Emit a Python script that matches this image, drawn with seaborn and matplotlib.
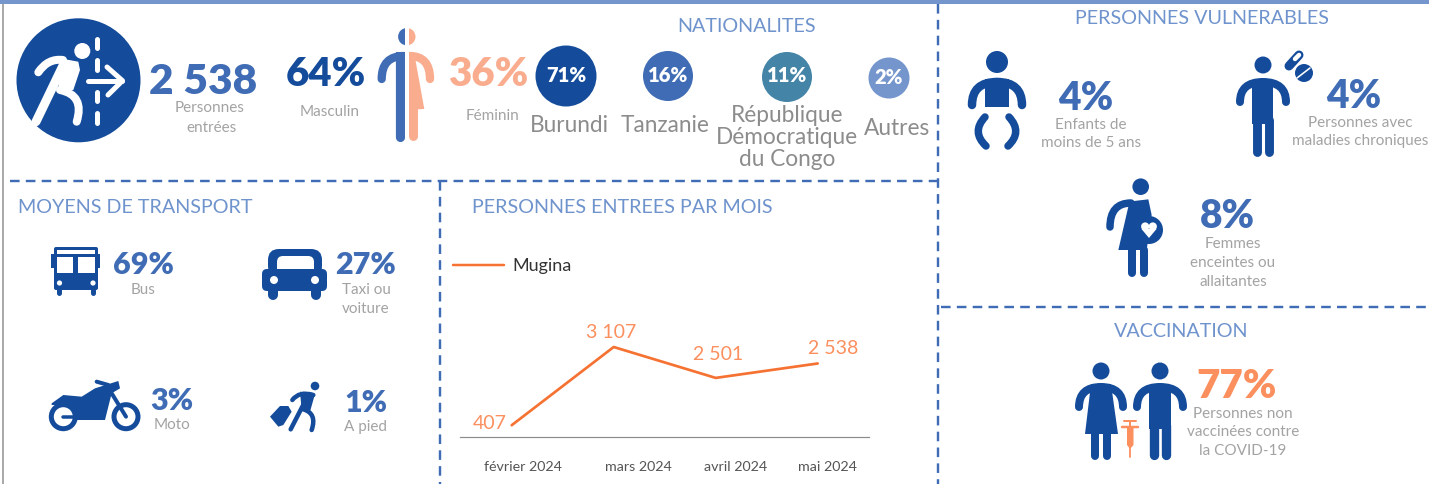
import numpy as np
import pandas as pd
import matplotlib
matplotlib.use("Agg")
import matplotlib.pyplot as plt
import seaborn as sns
from matplotlib.patches import Circle, Wedge, Polygon, PathPatch, FancyBboxPatch
from matplotlib.path import Path
from matplotlib.transforms import ScaledTranslation

# ---------- data ----------
total_entries = "2 538"
total_label = ["Personnes", "entrées"]
gender_labels = ["Masculin", "Féminin"]
gender_share = [64, 36]
nat_names = ["Burundi", "Tanzanie", "République\nDémocratique\ndu Congo", "Autres"]
nat_share = [71, 16, 11, 2]
transport_names = ["Bus", "Taxi ou\nvoiture", "Moto", "A pied"]
transport_share = [69, 27, 3, 1]
vuln_names = ["Enfants de\nmoins de 5 ans", "Personnes avec\nmaladies chroniques", "Femmes\nenceintes ou\nallaitantes"]
vuln_share = [4, 4, 8]
vacc_share = 77
vacc_label = "Personnes non\nvaccinées contre\nla COVID-19"
months = ["février 2024", "mars 2024", "avril 2024", "mai 2024"]
point_labels = ["407", "3 107", "2 501", "2 538"]
line_values = [407, 3107, 2040, 2538]   # heights as drawn in the picture
series_name = "Mugina"

# ---------- style ----------
W, H = 1429, 484
NAVY, BLUE, TEAL, LIGHT = "#144c9b", "#3f6cb5", "#4484a6", "#7596cd"
PEACH, ORANGE, LINE = "#f9ad8e", "#fb8f5e", "#f57232"
GREY, TITLE = "#a3a3a3", "#6f93cc"
sns.set_theme(style="white")
plt.rcParams["font.family"] = ["Lato", "DejaVu Sans"]

fig = plt.figure(figsize=(W / 100, H / 100), dpi=100, facecolor="white")
bg = fig.add_axes([0, 0, 1, 1])
bg.set_xlim(0, W)
bg.set_ylim(H, 0)
bg.axis("off")


def px(v):
    return v * 0.72


def txt(x, y, s, size, color=GREY, weight="normal", ha="center", ls=1.42):
    bg.text(x, y + 1.5, s, fontsize=size, color=color, fontweight=weight, ha=ha, va="center",
            linespacing=ls, clip_on=True)


def stroke(pts, w, color=NAVY, curve=False):
    if curve:
        codes = [Path.MOVETO] + [Path.CURVE3] * (len(pts) - 1)
    else:
        codes = [Path.MOVETO] + [Path.LINETO] * (len(pts) - 1)
    bg.add_patch(PathPatch(Path(pts, codes), fill=False, ec=color, lw=px(w),
                           capstyle="round", joinstyle="round"))


def poly(pts, color=NAVY):
    bg.add_patch(Polygon(pts, closed=True, fc=color, ec="none"))


def disc(x, y, r, color=NAVY):
    bg.add_patch(Circle((x, y), r, fc=color, ec="none"))


def crop(ox, oy, pts):
    return [(ox + a / 3, oy + b / 3) for a, b in pts]


def dashed(x0, y0, x1, y1):
    bg.plot([x0, x1], [y0, y1], color=BLUE, lw=px(2.4), dashes=(4.0, 2.6), dash_capstyle="butt")


def man(cx, head_y, r, top, half, arm_bottom, hw, bottom, crotch, color=NAVY, arm=8):
    disc(cx, head_y, r, color)
    for s in (-1, 1):
        stroke([(cx, top + arm / 2), (cx + s * (half - arm / 2), top + arm / 2),
                (cx + s * (half - arm / 2), arm_bottom)], arm, color, curve=True)
    leg = hw * 0.85
    poly([(cx - hw, top + 2), (cx + hw, top + 2), (cx + hw, crotch + 4), (cx - hw, crotch + 4)], color)
    for s in (-1, 1):
        stroke([(cx + s * (hw - leg / 2), crotch), (cx + s * (hw - leg / 2), bottom - leg / 2)], leg, color)


# ---------- frame ----------
bg.add_patch(plt.Rectangle((0, 0), W, 4, fc=LIGHT, ec="none"))
bg.plot([3.5, 3.5], [4, H], color="#8f8f8f", lw=px(1.5))
dashed(10, 181, 938, 181)
dashed(938, 4, 938, H)
dashed(440, 181, 440, H)
dashed(941, 307, W, 307)

# ---------- headline block ----------
disc(78.5, 80.3, 62)
disc(82.3, 51, 8, "white")
poly([(60, 58.3), (78.3, 61.7), (80, 70), (73.3, 90), (58.3, 90)], "white")
stroke([(36, 121.7), (63.3, 65)], 9, "white")
stroke([(38.3, 72.3), (48, 58), (63, 60)], 8, "white", curve=True)
stroke([(60, 90), (85, 95), (76.7, 121.7)], 8, "white", curve=True)
for y0, y1 in [(39, 48), (60, 70), (92, 101), (113, 123)]:
    stroke([(96.7, y0), (96.7, y1)], 5, "white")
stroke([(88, 80.7), (122, 80.7)], 5, "white")
stroke([(107, 67), (122.5, 80.7), (108, 95)], 5, "white")

txt(203.5, 81, total_entries, 30.5, BLUE, "heavy")
txt(210, 106, total_label[0], 11)
txt(212, 126, total_label[1], 11)
txt(326, 73, f"{gender_share[0]}%", 29, NAVY, "heavy")
txt(330, 110, gender_labels[0], 11)
txt(488, 73, f"{gender_share[1]}%", 29, PEACH, "heavy")
txt(493, 114, gender_labels[1], 11)

# split person
bg.add_patch(Wedge((406.8, 36.7), 8.7, 90, 270, fc=BLUE, ec="none"))
bg.add_patch(Wedge((406.8, 36.7), 8.7, -90, 90, fc=PEACH, ec="none"))
stroke([(404, 56), (381.7, 56), (381.7, 79)], 8.3, BLUE, curve=True)
poly([(395.7, 52), (405, 52), (405, 136), (395.7, 136)], BLUE)
stroke([(400.4, 60), (400.4, 136.5)], 9.2, BLUE)
stroke([(409.5, 56), (430, 56), (430, 79)], 8.3, PEACH, curve=True)
poly([(408.7, 52), (414, 52), (424.3, 109), (417.7, 109.3), (417.7, 136), (408.7, 136)], PEACH)
stroke([(413.2, 100), (413.2, 136)], 9, PEACH)
bg.add_patch(plt.Rectangle((405, 25), 3.7, 118, fc="white", ec="none"))

# ---------- nationalities ----------
txt(747, 25, "NATIONALITES", 14.2, TITLE)
nat_c = [(566, 76, 30.5, NAVY), (668, 76, 25, BLUE), (787, 77, 25, TEAL), (889, 78, 20.5, LIGHT)]
nat_y = [124, 124, 136, 127]
nat_x = [569, 665, 787, 897]
for (x, y, r, c), p in zip(nat_c, nat_share):
    disc(x, y, r, c)
    txt(x, y - 2.5, f"{p}%", 14.5, "white", "heavy")
for x, y, n in zip(nat_x, nat_y, nat_names):
    txt(x, y, n, 16.3, "#8c8c8c", ls=1.05)

# ---------- transport ----------
txt(18, 206, "MOYENS DE TRANSPORT", 14.2, TITLE, ha="left")
t_xy = [(143, 263, 288.5), (366, 263, 298), (172, 400, 423.5), (366, 401.5, 425.5)]
for (x, y, yl), p, n in zip(t_xy, transport_share, transport_names):
    txt(x, y, f"{p}%", 22, BLUE, "heavy")
    txt(x, yl, n, 11)

# bus
bg.add_patch(FancyBboxPatch((54, 247), 44, 43, boxstyle="round,pad=0,rounding_size=2", fc=NAVY, ec="none"))
bg.add_patch(plt.Rectangle((51, 254), 49, 14, fc=NAVY, ec="none"))
bg.add_patch(plt.Rectangle((57, 250), 38, 3.5, fc="white", ec="none"))
bg.add_patch(plt.Rectangle((57, 257), 16.5, 16, fc="white", ec="none"))
bg.add_patch(plt.Rectangle((78, 257), 17, 16, fc="white", ec="none"))
disc(59.5, 283, 2.6, "white")
disc(93, 283, 2.6, "white")
stroke([(59.5, 290), (59.5, 293)], 5)
stroke([(93, 290), (93, 293)], 5)

# car
bg.add_patch(FancyBboxPatch((268, 249), 54, 28, boxstyle="round,pad=0,rounding_size=11", fc=NAVY, ec="none"))
bg.add_patch(FancyBboxPatch((277, 256), 37, 22, boxstyle="round,pad=0,rounding_size=6", fc="white", ec="none"))
bg.add_patch(FancyBboxPatch((262, 269), 65, 22, boxstyle="round,pad=0,rounding_size=5", fc=NAVY, ec="none"))
disc(274, 280, 4, "white")
disc(315, 280, 4, "white")
stroke([(273, 290), (273, 295)], 10)
stroke([(316.5, 290), (316.5, 295)], 10)

# motorbike
for cx in (63.3, 126):
    bg.add_patch(Circle((cx, 416.7), 12, fc="white", ec=NAVY, lw=px(5)))
poly(crop(40, 370, [(35, 100), (70, 75), (125, 80), (165, 55), (235, 33), (240, 55), (215, 70), (205, 110),
                    (195, 150), (110, 150), (105, 125), (70, 105), (35, 105)]))
stroke(crop(40, 370, [(170, 35), (205, 45)]), 4)
stroke(crop(40, 370, [(215, 70), (258, 140)]), 4)
stroke(crop(40, 370, [(70, 140), (105, 140)]), 3.5)

# walker with suitcase
disc(315, 386, 4.3)
stroke(crop(260, 370, [(92, 178), (145, 75)]), 4.5)
stroke(crop(260, 370, [(97, 90), (118, 62), (160, 75)]), 4.5, curve=True)
poly(crop(260, 370, [(120, 65), (165, 72), (150, 125), (125, 120)]))
stroke(crop(260, 370, [(130, 118), (172, 130), (155, 180)]), 4.5, curve=True)
poly(crop(260, 370, [(30, 140), (60, 108), (85, 108), (95, 125), (70, 165), (55, 170)]))

# ---------- vulnerable ----------
txt(1202, 17, "PERSONNES VULNERABLES", 14.2, TITLE)
v_xy = [(1086, 97.5, 1091, 132.5), (1354, 95.5, 1360, 130.5), (1227, 215.5, 1233, 261.5)]
for (x, y, xl, yl), p, n in zip(v_xy, vuln_share, vuln_names):
    txt(x, y, f"{p}%", 28, BLUE, "heavy")
    txt(xl, yl, n, 11)

# baby
disc(997, 62, 11)
for s in (-1, 1):
    stroke([(997, 82), (997 + s * 25, 82), (997 + s * 25, 105)], 8.5, curve=True)
    stroke([(997 + s * 12, 117), (997 + s * 26, 132), (997 + s * 11, 146)], 7.5, curve=True)
bg.add_patch(plt.Rectangle((985, 79), 24, 28, fc=NAVY, ec="none"))

# chronic
man(1263, 65, 8.5, 78, 27, 102, 10.5, 156, 120)
stroke([(1289, 66), (1299, 55)], 9)
stroke([(1295, 59), (1299, 55)], 4.5, "white")
disc(1304, 73, 9)
stroke([(1297, 78), (1310, 68)], 1.6, "white")

# pregnant
disc(1140.7, 186.7, 8.3)
stroke([(1131, 203), (1110, 203), (1110, 227)], 7.5, curve=True)
poly(crop(1090, 170, [(115, 95), (175, 88), (185, 135), (170, 240), (85, 240), (115, 110)]))
disc(1149, 230, 14)
disc(1145.2, 226.5, 4.1, "white")
disc(1152.8, 226.5, 4.1, "white")
poly([(1141.5, 229), (1156.5, 229), (1149, 238)], "white")
stroke([(1132, 250), (1132, 273)], 8)
stroke([(1144.5, 250), (1144.5, 273)], 8)

# ---------- vaccination ----------
txt(1181, 330, "VACCINATION", 14.2, TITLE)
disc(1101, 371, 8.5)
for s in (-1, 1):
    stroke([(1101, 387), (1101 + s * 22, 387), (1101 + s * 22, 407)], 8, curve=True)
poly([(1091, 384), (1111, 384), (1118, 434), (1085, 434)])
stroke([(1095, 432), (1095, 456)], 8)
stroke([(1107, 432), (1107, 456)], 8)
man(1160, 371, 8.5, 383, 27, 407, 11, 460, 425)
# syringe
stroke([(1124, 421), (1136, 421)], 2, ORANGE)
stroke([(1130, 421), (1130, 428)], 2, ORANGE)
stroke([(1122, 427), (1138, 427)], 2.5, ORANGE)
poly([(1127, 427), (1133.5, 427), (1133.5, 445), (1130, 449), (1127, 445)], ORANGE)
stroke([(1130, 445), (1130, 457)], 1.8, ORANGE)

txt(1237, 385.5, f"{vacc_share}%", 29, ORANGE, "heavy")
txt(1243, 431, vacc_label, 11)

# ---------- line chart ----------
txt(472, 206, "PERSONNES ENTREES PAR MOIS", 14.2, TITLE, ha="left")
L, R, B, T = 460, 869, 437, 320
ax = fig.add_axes([L / W, 1 - B / H, (R - L) / W, (B - T) / H])
ax.patch.set_alpha(0)
df = pd.DataFrame({"pos": np.arange(len(months)), "value": line_values, "site": series_name})
sns.lineplot(data=df, x="pos", y="value", hue="site", palette=[LINE], linewidth=px(2.7), ax=ax,
             estimator=None, legend=False)
spacing = 102
ax.set_xlim((L - 511.7) / spacing, (R - 511.7) / spacing)
ax.set_ylim(0, (B - T) * 3107 / 90)
ax.set_xlabel("")
ax.set_ylabel("")
ax.set_yticks([])
ax.set_xticks(df["pos"])
ax.set_xticklabels(months, fontsize=10.3, color="#555555")
ax.tick_params(axis="x", length=0, pad=px(24))
for tick, dx in zip(ax.get_xticklabels(), [11, 25, 20, 10]):
    tick.set_transform(tick.get_transform() + ScaledTranslation(px(dx) / 72, 0, fig.dpi_scale_trans))
for side in ("top", "left", "right"):
    ax.spines[side].set_visible(False)
ax.spines["bottom"].set_color("#8c8c8c")
ax.spines["bottom"].set_linewidth(px(1.2))
offsets = [(-22, 2), (-3, 15), (2, 23), (15, 15)]
for i, (lab, off) in enumerate(zip(point_labels, offsets)):
    ax.annotate(lab, (i, line_values[i]), xytext=(px(off[0]), px(off[1])), textcoords="offset points",
                ha="center", va="center", fontsize=14, color=ORANGE, fontweight="normal", annotation_clip=False)
handles = [plt.Line2D([], [], color=LINE, lw=px(2.5))]
ax.legend(handles, [series_name], loc="center left", bbox_to_anchor=(442 / W, 1 - 266 / H),
          bbox_transform=fig.transFigure, frameon=False, fontsize=13, handlelength=2.85,
          handletextpad=0.45, labelcolor="#333333", borderpad=0.1)

fig.savefig("out.png", dpi=100, facecolor="white")
